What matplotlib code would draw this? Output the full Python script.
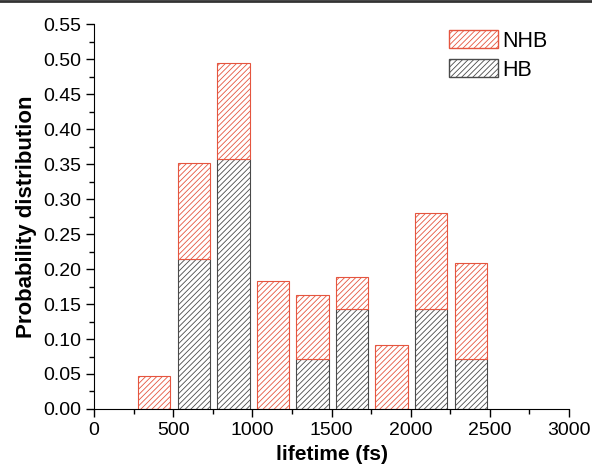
import matplotlib
matplotlib.use("Agg")
import matplotlib.pyplot as plt
from matplotlib.patches import Patch
from matplotlib.lines import Line2D
from matplotlib.ticker import MultipleLocator

# bin centres (fs) and probabilities
centers = [380, 630, 880, 1130, 1380, 1630, 1880, 2130, 2380]
hb = [0.0, 0.214, 0.357, 0.0, 0.071, 0.143, 0.0, 0.143, 0.071]
total = [0.047, 0.352, 0.495, 0.183, 0.163, 0.189, 0.092, 0.280, 0.209]
nhb = [t - h for t, h in zip(total, hb)]

red = "#e5553f"
grey = "#4a4a4a"

plt.rcParams['font.family'] = ['Liberation Sans', 'DejaVu Sans']
plt.rcParams['hatch.linewidth'] = 0.6

fig = plt.figure(figsize=(5.92, 4.75), dpi=100)
ax = fig.add_axes([0.159, 0.139, 0.802, 0.810])

ax.bar(centers, hb, width=205, color="white", edgecolor=grey,
       hatch="//////", linewidth=0.8)
ax.bar(centers, nhb, width=205, bottom=hb, color="white", edgecolor=red,
       hatch="//////", linewidth=0.8)

ax.set_xlim(0, 3000)
ax.set_ylim(0, 0.55)
ax.xaxis.set_major_locator(MultipleLocator(500))
ax.xaxis.set_minor_locator(MultipleLocator(250))
ax.yaxis.set_major_locator(MultipleLocator(0.05))
ax.yaxis.set_minor_locator(MultipleLocator(0.025))
ax.yaxis.set_major_formatter(lambda v, p: "%.2f" % v)
ax.tick_params(which="major", length=6, width=1, labelsize=14)
ax.tick_params(which="minor", length=3.5, width=1)
ax.spines["top"].set_visible(False)
ax.spines["right"].set_visible(False)

ax.set_xlabel("lifetime (fs)", fontsize=15, fontweight="bold")
ax.set_ylabel("Probability distribution", fontsize=16, fontweight="bold")

handles = [Patch(facecolor="white", edgecolor=red, hatch="//////", label="NHB"),
           Patch(facecolor="white", edgecolor=grey, hatch="//////", label="HB")]
ax.legend(handles=handles, loc="upper right", bbox_to_anchor=(0.965, 0.995),
          frameon=False, fontsize=15.5, handlelength=2.3, handleheight=0.9,
          handletextpad=0.2, labelspacing=0.35, borderaxespad=0.0,
          borderpad=0.2)

fig.add_artist(Line2D([0, 1], [0.998, 0.998], transform=fig.transFigure,
                      color="#333333", linewidth=2))

fig.savefig("out.png", dpi=100)
